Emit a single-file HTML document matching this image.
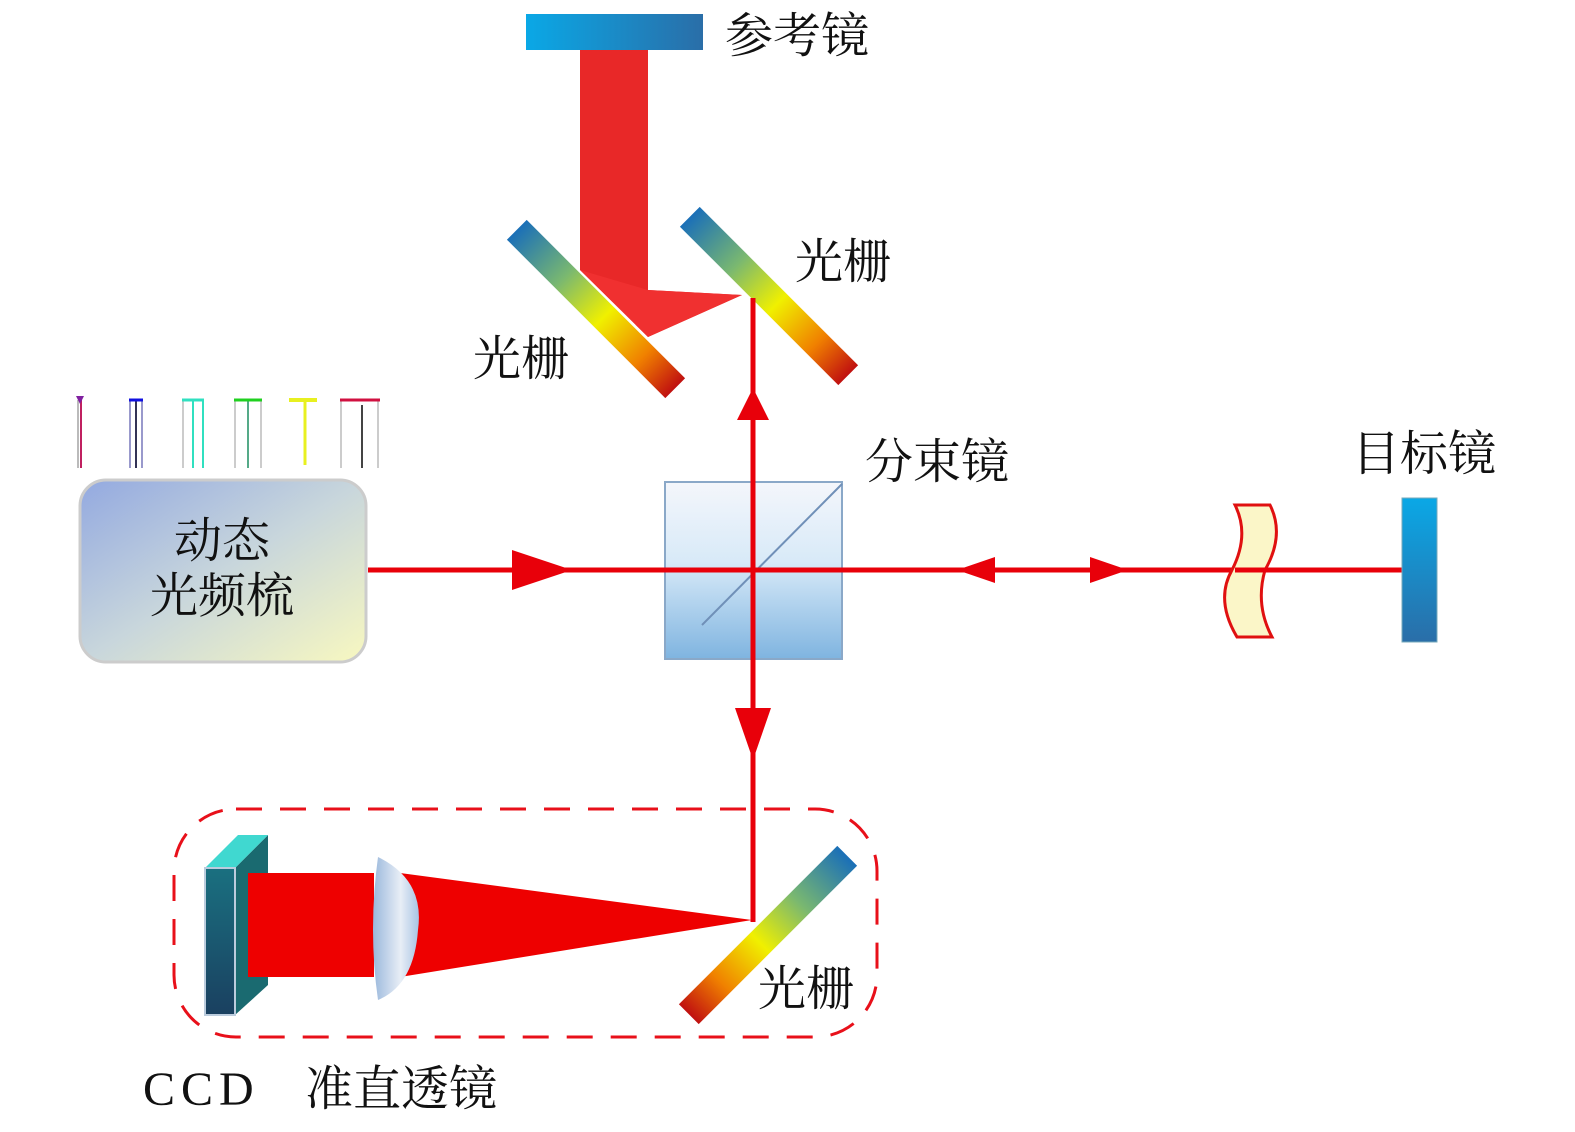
<!DOCTYPE html>
<html><head><meta charset="utf-8"><style>
html,body{margin:0;padding:0;background:#fff;}
svg{display:block;}
text{font-family:"Liberation Serif","Noto Serif CJK SC","Noto Sans CJK SC",serif;fill:#111;}
</style></head><body>
<svg width="1575" height="1132" viewBox="0 0 1575 1132" xmlns="http://www.w3.org/2000/svg">
<defs>
<linearGradient id="blueH" x1="0" y1="0" x2="1" y2="0"><stop offset="0" stop-color="#0aa8e6"/><stop offset="1" stop-color="#2a6ea8"/></linearGradient>
<linearGradient id="blueV" x1="0" y1="0" x2="0" y2="1"><stop offset="0" stop-color="#0aa8e6"/><stop offset="1" stop-color="#2a6ea8"/></linearGradient>
<linearGradient id="grat" x1="0" y1="0" x2="1" y2="0"><stop offset="0" stop-color="#1a6fb8"/><stop offset="0.3" stop-color="#7ab870"/><stop offset="0.55" stop-color="#f0f000"/><stop offset="0.8" stop-color="#f08000"/><stop offset="1" stop-color="#c01010"/></linearGradient>
<linearGradient id="comb" x1="0" y1="0" x2="1" y2="1"><stop offset="0" stop-color="#93a9e0"/><stop offset="0.5" stop-color="#c8d6dc"/><stop offset="1" stop-color="#f8f8c0"/></linearGradient>
<linearGradient id="cube" x1="0" y1="0" x2="0" y2="1"><stop offset="0" stop-color="#f4f6fb"/><stop offset="0.45" stop-color="#d8eaf8"/><stop offset="1" stop-color="#7fb4e0"/></linearGradient>
<linearGradient id="lens2" x1="0" y1="0" x2="1" y2="0"><stop offset="0" stop-color="#9ab8dc"/><stop offset="0.6" stop-color="#e8eef6"/><stop offset="1" stop-color="#a8c4e4"/></linearGradient>
<linearGradient id="ccd" x1="0" y1="0" x2="0" y2="1"><stop offset="0" stop-color="#1a7080"/><stop offset="1" stop-color="#1a4060"/></linearGradient>
</defs>

<rect x="526" y="14" width="177" height="36" fill="url(#blueH)"/>
<text x="725" y="52" font-size="48">参考镜</text>

<polygon points="580,50 648,50 648,290 742,295 648,337 580,270" fill="#e82828"/>
<polygon points="580,270 648,290 742,295 648,337" fill="#f03030"/>

<g transform="translate(596,309) rotate(45)"><rect x="-112" y="-14" width="224" height="28" fill="url(#grat)"/></g>
<g transform="translate(769,296) rotate(45)"><rect x="-112" y="-14" width="224" height="28" fill="url(#grat)"/></g>
<text x="795" y="278" font-size="48">光栅</text>
<text x="473" y="375" font-size="48">光栅</text>

<rect x="665" y="482" width="177" height="177" fill="url(#cube)" stroke="#8aa8c8" stroke-width="2"/>
<line x1="842" y1="484" x2="702" y2="625" stroke="#7090b8" stroke-width="2"/>
<text x="865" y="478" font-size="48">分束镜</text>

<line x1="753" y1="298" x2="753" y2="922" stroke="#e8000a" stroke-width="5"/>
<line x1="368" y1="570" x2="1402" y2="570" stroke="#e8000a" stroke-width="5"/>
<polygon points="753,388 737,420 769,420" fill="#e8000a"/>
<polygon points="753,760 735,708 771,708" fill="#e8000a"/>
<polygon points="572,570 512,550 512,590" fill="#e8000a"/>
<polygon points="957,570 995,557 995,583" fill="#e8000a"/>
<polygon points="1128,570 1090,557 1090,583" fill="#e8000a"/>

<rect x="80" y="480" width="286" height="182" rx="26" fill="url(#comb)" stroke="#ccc" stroke-width="3"/>
<text x="222" y="557" font-size="48" text-anchor="middle">动态</text>
<text x="222" y="612" font-size="48" text-anchor="middle">光频梳</text>

<g stroke-width="2">
<line x1="78" y1="400" x2="78" y2="468" stroke="#bbb"/><line x1="81" y1="400" x2="81" y2="468" stroke="#c02060"/>
<polygon points="80,404 76,396 84,396" fill="#8020a0"/>
<line x1="130" y1="400" x2="130" y2="468" stroke="#99c"/><line x1="136" y1="400" x2="136" y2="468" stroke="#335"/><line x1="142" y1="400" x2="142" y2="468" stroke="#99c"/>
<line x1="129" y1="400" x2="143" y2="400" stroke="#1010e0" stroke-width="3"/>
<line x1="183" y1="400" x2="183" y2="468" stroke="#ccc"/><line x1="193" y1="400" x2="193" y2="468" stroke="#30e0c0"/><line x1="203" y1="400" x2="203" y2="468" stroke="#30e0c0"/>
<line x1="182" y1="400" x2="204" y2="400" stroke="#30e0c0" stroke-width="3"/>
<line x1="235" y1="400" x2="235" y2="468" stroke="#ccc"/><line x1="248" y1="400" x2="248" y2="468" stroke="#5a8"/><line x1="261" y1="400" x2="261" y2="468" stroke="#ccc"/>
<line x1="234" y1="400" x2="262" y2="400" stroke="#20d020" stroke-width="3"/>
<line x1="289" y1="400" x2="317" y2="400" stroke="#e8f020" stroke-width="4"/><line x1="305" y1="400" x2="305" y2="465" stroke="#e8f020" stroke-width="3"/>
<line x1="341" y1="400" x2="341" y2="468" stroke="#ccc"/><line x1="362" y1="405" x2="362" y2="468" stroke="#444"/><line x1="378" y1="400" x2="378" y2="468" stroke="#ccc"/>
<line x1="340" y1="400" x2="380" y2="400" stroke="#d01040" stroke-width="3"/>
</g>

<path d="M1235,505 L1270,505 Q1285,535 1265,570 Q1255,605 1272,637 L1237,637 Q1215,600 1232,570 Q1250,535 1235,505 Z" fill="#fbf6c8" stroke="#e01010" stroke-width="3"/>
<line x1="1235" y1="570" x2="1270" y2="570" stroke="#e8000a" stroke-width="5"/>

<rect x="1402" y="498" width="35" height="144" fill="url(#blueV)" stroke="#7ab" stroke-width="1"/>
<text x="1352" y="470" font-size="48">目标镜</text>

<rect x="174" y="809" width="703" height="228" rx="62" fill="none" stroke="#e8101a" stroke-width="3" stroke-dasharray="26,18"/>

<polygon points="235,868 268,835 268,985 235,1015" fill="#1a6a70"/>
<polygon points="205,868 235,868 268,835 238,835" fill="#40d8d0"/>
<rect x="205" y="868" width="30" height="147" fill="url(#ccd)" stroke="#bcd" stroke-width="2"/>

<rect x="248" y="873" width="126" height="104" fill="#ee0000"/>
<polygon points="400,873 752,920 400,977" fill="#ee0000"/>
<path d="M378,857 Q425,880 418,930 Q414,985 378,1000 Q368,930 378,857 Z" fill="url(#lens2)"/>

<g transform="translate(768,935) rotate(-45)"><rect x="-112" y="-14" width="224" height="28" fill="url(#grat)" transform="scale(-1,1)"/></g>
<text x="758" y="1005" font-size="48">光栅</text>

<text x="143" y="1105" font-size="48" letter-spacing="6">CCD</text>
<text x="305" y="1105" font-size="48">准直透镜</text>
</svg>
</body></html>
